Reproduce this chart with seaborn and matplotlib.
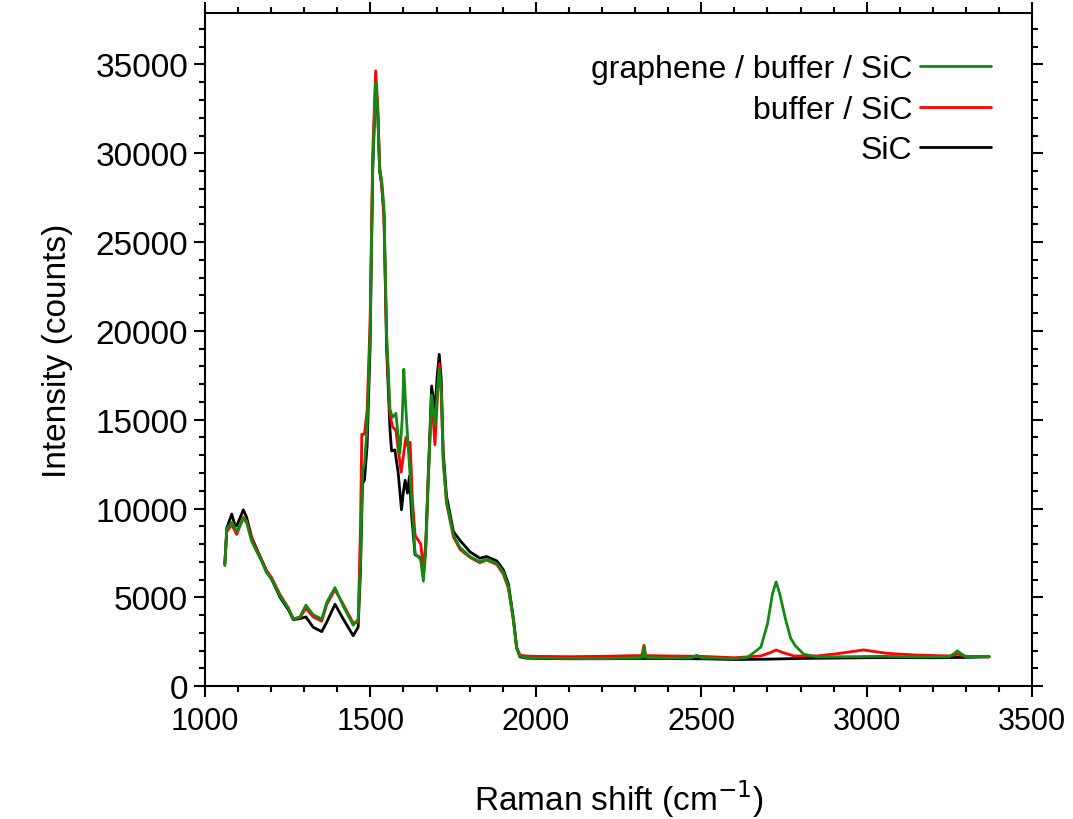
import pandas as pd
import seaborn as sns
import matplotlib
matplotlib.use("Agg")
import matplotlib.pyplot as plt
from matplotlib.ticker import MultipleLocator

green_x = [1060, 1066, 1081, 1096, 1116, 1126, 1141, 1157, 1172, 1186, 1202, 1227, 1252, 1267, 1287,
           1305, 1327, 1353, 1368, 1393, 1418, 1448, 1463, 1470, 1476, 1482, 1490, 1499, 1507, 1516,
           1522, 1528, 1534, 1541, 1549, 1559, 1567, 1577, 1589, 1596, 1601, 1606, 1615, 1625, 1635,
           1645, 1652, 1660, 1667, 1675, 1685, 1695, 1702, 1708, 1714, 1720, 1730, 1751, 1771, 1801,
           1831, 1851, 1882, 1902, 1917, 1932, 1942, 1952, 1970, 2000, 2100, 2200, 2300, 2322, 2327,
           2332, 2400, 2470, 2486, 2500, 2600, 2640, 2680, 2700, 2715, 2726, 2737, 2754, 2770, 2783,
           2809, 2850, 2950, 3050, 3150, 3250, 3265, 3274, 3283, 3300, 3370]
green_y = [6800, 8860, 9230, 8700, 9450, 9200, 8160, 7560, 7000, 6380, 6020, 5080, 4390, 3780, 3900,
           4560, 4020, 3780, 4720, 5550, 4500, 3430, 3770, 7000, 12100, 12500, 14500, 19860, 29300, 34000,
           32500, 29000, 28490, 26950, 19860, 15600, 15130, 15360, 13100, 15000, 17840, 16000, 13240, 10400, 7440,
           7300, 7100, 5910, 7500, 11590, 16400, 14660, 16500, 17850, 16500, 12770, 10400, 8510, 7800, 7300,
           7000, 7150, 6900, 6400, 5600, 3780, 2140, 1700, 1600, 1580, 1560, 1550, 1600, 1620, 2200,
           1620, 1580, 1600, 1740, 1600, 1550, 1620, 2200, 3500, 5200, 5870, 5200, 3800, 2700, 2300,
           1800, 1650, 1660, 1680, 1650, 1660, 1850, 1990, 1850, 1650, 1670]

red_x = [1060, 1066, 1081, 1096, 1116, 1126, 1141, 1157, 1186, 1202, 1227, 1252, 1267, 1287, 1305,
         1327, 1353, 1368, 1393, 1418, 1448, 1463, 1470, 1474, 1482, 1490, 1499, 1507, 1516, 1522,
         1528, 1534, 1541, 1549, 1559, 1567, 1577, 1585, 1593, 1600, 1607, 1613, 1620, 1627, 1635,
         1645, 1652, 1660, 1667, 1675, 1685, 1690, 1695, 1702, 1708, 1714, 1720, 1730, 1751, 1771,
         1801, 1831, 1851, 1882, 1902, 1917, 1932, 1942, 1952, 1970, 2000, 2100, 2200, 2300, 2320,
         2327, 2332, 2400, 2500, 2600, 2680, 2710, 2726, 2745, 2780, 2850, 2920, 2990, 3060, 3150,
         3250, 3274, 3300, 3370]
red_y = [6800, 8700, 9100, 8540, 9500, 9300, 8300, 7650, 6500, 6100, 5150, 4400, 3800, 3850, 4390,
         3900, 3660, 4600, 5430, 4600, 3550, 3600, 9000, 14180, 14180, 15500, 20500, 30000, 34640, 32800,
         29300, 28300, 26500, 19500, 15300, 14600, 14400, 13200, 12050, 13000, 14000, 13500, 13730, 10500, 8500,
         8200, 8000, 6700, 7700, 11700, 16200, 15000, 13590, 16000, 18150, 16700, 12700, 10300, 8400, 7700,
         7250, 6950, 7100, 6850, 6300, 5500, 3700, 2200, 1750, 1700, 1680, 1660, 1680, 1720, 1720,
         2300, 1720, 1700, 1680, 1600, 1700, 1900, 2040, 1900, 1700, 1700, 1850, 2040, 1850, 1750,
         1700, 1800, 1680, 1650]

black_x = [1060, 1066, 1081, 1090, 1096, 1116, 1126, 1141, 1157, 1186, 1202, 1227, 1252, 1267, 1287,
           1305, 1327, 1353, 1368, 1393, 1418, 1448, 1463, 1470, 1476, 1482, 1490, 1499, 1507, 1516,
           1522, 1528, 1534, 1541, 1549, 1559, 1564, 1574, 1584, 1594, 1600, 1605, 1612, 1618, 1625,
           1635, 1645, 1652, 1660, 1667, 1675, 1685, 1695, 1702, 1708, 1714, 1720, 1730, 1751, 1771,
           1801, 1831, 1851, 1882, 1902, 1917, 1932, 1942, 1952, 1970, 2000, 2100, 2200, 2300, 2400,
           2500, 2600, 2700, 2800, 2900, 3000, 3100, 3200, 3300, 3370]
black_y = [6900, 8900, 9690, 9100, 9020, 9930, 9500, 8390, 7700, 6500, 6000, 5000, 4300, 3750, 3800,
           3900, 3320, 3070, 3600, 4610, 3780, 2840, 3320, 6500, 11400, 11600, 13500, 19000, 29000, 34000,
           32300, 29000, 28200, 26500, 19000, 14500, 13240, 13300, 12000, 9930, 11000, 11590, 10870, 11820, 9500,
           7400, 7300, 7200, 6400, 7900, 12000, 16900, 15500, 17500, 18680, 17300, 13200, 10700, 8700, 8200,
           7560, 7200, 7300, 7050, 6550, 5750, 3850, 2150, 1650, 1580, 1560, 1540, 1540, 1560, 1550,
           1540, 1500, 1520, 1560, 1580, 1600, 1610, 1600, 1620, 1650]

labels = ["SiC", "buffer / SiC", "graphene / buffer / SiC"]
colors = {"SiC": "#000000", "buffer / SiC": "#ff0000", "graphene / buffer / SiC": "#128a12"}

df = pd.concat([
    pd.DataFrame({"shift": black_x, "intensity": black_y, "sample": labels[0]}),
    pd.DataFrame({"shift": red_x, "intensity": red_y, "sample": labels[1]}),
    pd.DataFrame({"shift": green_x, "intensity": green_y, "sample": labels[2]}),
])

sns.set_theme(style="ticks")
plt.rcParams["font.family"] = ["Liberation Sans", "DejaVu Sans"]
plt.rcParams.update({"text.color": "black", "axes.labelcolor": "black",
                     "xtick.color": "black", "ytick.color": "black"})

fig, ax = plt.subplots(figsize=(10.73, 8.2), dpi=100)
fig.subplots_adjust(left=0.191, right=0.962, bottom=0.162, top=0.983)

sns.lineplot(data=df, x="shift", y="intensity", hue="sample", hue_order=labels,
             palette=colors, linewidth=2.0, estimator=None, sort=False, ax=ax)

ax.set_xlim(1000, 3500)
ax.set_ylim(0, 37900)
ax.xaxis.set_major_locator(MultipleLocator(500))
ax.xaxis.set_minor_locator(MultipleLocator(100))
ax.yaxis.set_major_locator(MultipleLocator(5000))
ax.yaxis.set_minor_locator(MultipleLocator(1000))

ax.tick_params(which="both", direction="out", top=True, right=True, width=1.5, color="black")
ax.tick_params(which="major", length=8)
ax.tick_params(which="minor", length=4)
ax.tick_params(axis="x", labelsize=22, pad=6)
ax.tick_params(axis="y", labelsize=24, pad=4)

for spine in ["top", "right", "left", "bottom"]:
    ax.spines[spine].set_visible(True)
    ax.spines[spine].set_color("black")
    ax.spines[spine].set_linewidth(1.5)

ax.set_xlabel("Raman shift (cm$^{-1}$)", fontsize=24, labelpad=30)
ax.set_ylabel("Intensity (counts)", fontsize=24, labelpad=16)

handles, texts = ax.get_legend_handles_labels()
order = [texts.index(l) for l in labels[::-1]]
ax.legend([handles[i] for i in order], [texts[i] for i in order],
          loc="upper right", frameon=False, fontsize=23, markerfirst=False,
          handlelength=2.2, labelspacing=0.32, handletextpad=0.25, borderaxespad=0.9)

fig.savefig("out.png", dpi=100)
